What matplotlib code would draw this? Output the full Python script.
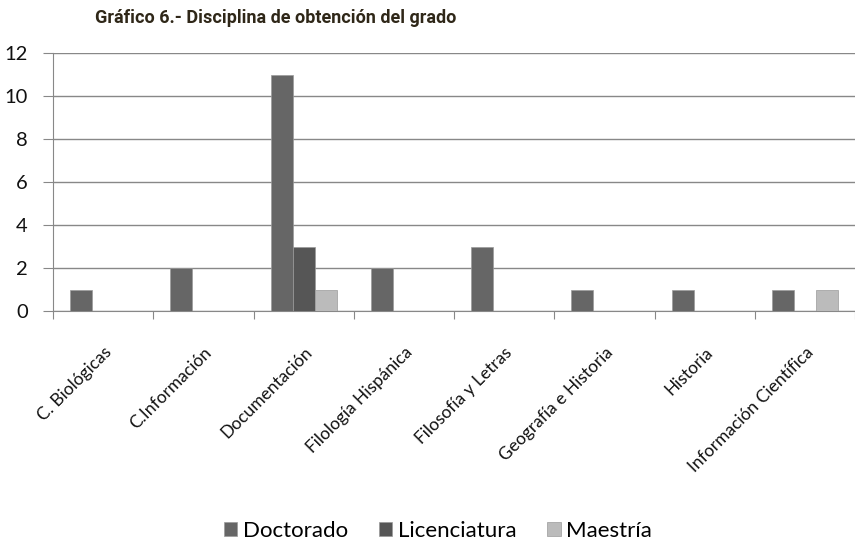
import matplotlib.pyplot as plt
import numpy as np

categories = ["C. Biológicas", "C.Información", "Documentación", "Filología Hispánica",
              "Filosofía y Letras", "Geografía e Historia", "Historia", "Información Científica"]
doctorado = [1, 2, 11, 2, 3, 1, 1, 1]
licenciatura = [0, 0, 3, 0, 0, 0, 0, 0]
maestria = [0, 0, 1, 0, 0, 0, 0, 1]
series = ["Doctorado", "Licenciatura", "Maestría"]
colors = ["#666666", "#565656", "#bbbbbb"]

plt.rcParams['font.family'] = ['Lato', 'DejaVu Sans']

fig = plt.figure(figsize=(8.55, 5.44), dpi=100)
ax = fig.add_axes([53 / 855, 1 - 311 / 544, 802 / 855, 258 / 544])

x = np.arange(len(categories))
w = 0.22
for i, (vals, name) in enumerate(zip([doctorado, licenciatura, maestria], series)):
    ax.bar(x + (i - 1) * w, vals, w, color=colors[i], label=name,
           edgecolor="#9a9a9a", linewidth=0.5, zorder=3)

ax.set_xlim(-0.5, len(categories) - 0.5)
ax.set_ylim(0, 12)
ax.set_yticks(range(0, 13, 2))
ax.yaxis.grid(True, color="#888888", linewidth=1, zorder=0)
ax.tick_params(axis='y', length=7, color="#888888", labelsize=14.5, pad=11, labelcolor="#111111")

# category boundaries as ticks
ax.set_xticks(np.arange(-0.5, len(categories), 1), minor=False)
ax.set_xticklabels([])
ax.set_xticks(x, minor=True)
ax.set_xticklabels(categories, minor=True, rotation=45, ha='right', va='top',
                   rotation_mode='anchor', fontsize=12.5, color="#111111")
ax.tick_params(axis='x', which='major', length=6, color="#888888")
ax.tick_params(axis='x', which='minor', length=0, pad=24)

for s in ['top', 'right']:
    ax.spines[s].set_visible(False)
for s in ['left', 'bottom']:
    ax.spines[s].set_color("#888888")

fig.text(95 / 855, 1 - 18 / 544, "Gráfico 6.- Disciplina de obtención del grado",
         fontsize=13, fontweight='bold', color="#2f2718", va='center',
         family=['Roboto', 'DejaVu Sans'])

fig.legend(loc='center', bbox_to_anchor=(438 / 855, 1 - 531 / 544), ncol=3, frameon=False,
           fontsize=16, handlelength=0.6, handleheight=0.6, handletextpad=0.25,
           columnspacing=1.4)

fig.savefig("out.png", dpi=100)
